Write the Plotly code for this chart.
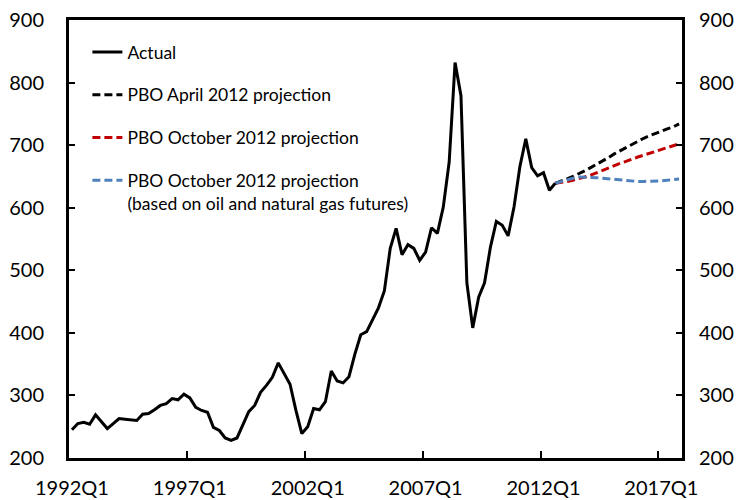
import plotly.graph_objects as go

# Quarter labels 1992Q1 .. 2017Q4
years = list(range(1992, 2018))
quarters = [f"{y}Q{q}" for y in years for q in range(1, 5)]

actual = [245, 255, 257, 254, 269, 258, 247, 255, 263, 262, 261, 260, 270, 271, 277, 284,
          287, 295, 293, 302, 296, 281, 276, 273, 249, 244, 232, 228, 232, 253, 274, 284,
          305, 316, 329, 352, 335, 318, 276, 239, 250, 279, 277, 290, 339, 323, 320, 330,
          366, 397, 402, 420, 440, 467, 535, 567, 525, 541, 535, 516, 529, 568, 559, 601,
          673, 832, 779, 480, 408, 457, 480, 537, 578, 572, 555, 601, 666, 710, 664, 651,
          656, 628, 639]

# projections start at 2012Q3 (index 82)
proj_start = 82
pbo_april = [639, 642, 646, 650, 654, 659, 664, 669, 675, 680, 686, 691, 697, 702, 707, 711,
             715, 719, 722, 726, 729, 734]
pbo_october = [639, 640, 642, 644, 646, 649, 652, 656, 660, 663, 667, 671, 674, 678, 681, 684,
               687, 690, 692, 695, 699, 702]
pbo_oct_futures = [639, 642, 645, 647, 649, 649, 649, 648, 647, 646, 645, 644, 643, 642, 642, 642,
                   642, 643, 643, 644, 645, 646]

x_actual = list(range(len(actual)))
x_proj = list(range(proj_start, proj_start + len(pbo_april)))

tick_labels = ["1992Q1", "1997Q1", "2002Q1", "2007Q1", "2012Q1", "2017Q1"]
label_pos = [quarters.index(t) for t in tick_labels]
boundary_pos = [p - 0.5 for p in label_pos[1:]]

FONT = "Lato, Calibri, Carlito, sans-serif"

fig = go.Figure()
fig.add_trace(go.Scatter(x=x_proj, y=pbo_april, mode="lines", name="PBO April 2012 projection",
                         line=dict(color="black", width=3, dash="8px,4px"), legendgroup="b", legendrank=2))
fig.add_trace(go.Scatter(x=x_proj, y=pbo_october, mode="lines", name="PBO October 2012 projection",
                         line=dict(color="#C00000", width=3, dash="8px,4px"), legendgroup="c", legendrank=3))
fig.add_trace(go.Scatter(x=x_proj, y=pbo_oct_futures, mode="lines",
                         name="PBO October 2012 projection<br>(based on oil and natural gas futures)",
                         line=dict(color="#4F81BD", width=3, dash="8px,4px"), legendgroup="d", legendrank=4))
fig.add_trace(go.Scatter(x=x_actual, y=actual, mode="lines", name="Actual", xaxis="x2",
                         line=dict(color="black", width=3), legendgroup="a", legendrank=1))

xr = [-0.5, len(quarters) - 0.5]
fig.update_layout(
    width=738, height=492,
    margin=dict(l=61, r=64, t=12, b=42),
    paper_bgcolor="white", plot_bgcolor="white",
    font=dict(family=FONT, size=20, color="black"),
    showlegend=True,
    legend=dict(x=0.03, y=0.968, xanchor="left", yanchor="top", bgcolor="rgba(0,0,0,0)",
                font=dict(size=17.5, family=FONT), tracegroupgap=17, valign="top",
                traceorder="grouped"),
    xaxis=dict(range=xr, tickmode="array", tickvals=boundary_pos, ticktext=[""] * len(boundary_pos),
               ticks="inside", ticklen=7, tickwidth=2, tickcolor="black", automargin=False,
               showline=True, linecolor="black", linewidth=3, mirror=True,
               showgrid=False, zeroline=False),
    xaxis2=dict(range=xr, overlaying="x", side="bottom", tickmode="array", tickvals=label_pos,
                ticktext=tick_labels, ticks="", showline=False, showgrid=False, zeroline=False,
                ticklabelstandoff=16, tickfont=dict(size=20), automargin=False,
                ticklabeloverflow="allow"),
    yaxis=dict(range=[200, 900], dtick=100, tick0=200, ticks="inside", ticklen=6, tickwidth=2,
               tickcolor="black", showline=True, linecolor="black", linewidth=3, mirror="ticks",
               showgrid=False, zeroline=False, ticklabelstandoff=18, tickfont=dict(size=20),
               automargin=False, ticklabeloverflow="allow"),
    yaxis2=dict(range=[200, 900], dtick=100, tick0=200, overlaying="y", side="right", ticks="",
                showline=False, showgrid=False, zeroline=False, ticklabelstandoff=16,
                tickfont=dict(size=20), automargin=False, ticklabeloverflow="allow"),
)
# a zero-width hidden trace pins yaxis2 for the right-hand labels
fig.add_trace(go.Scatter(x=[x_actual[0]], y=[actual[0]], yaxis="y2", mode="lines", showlegend=False,
                         hoverinfo="skip", line=dict(width=0)))

fig.write_html("out.html")
